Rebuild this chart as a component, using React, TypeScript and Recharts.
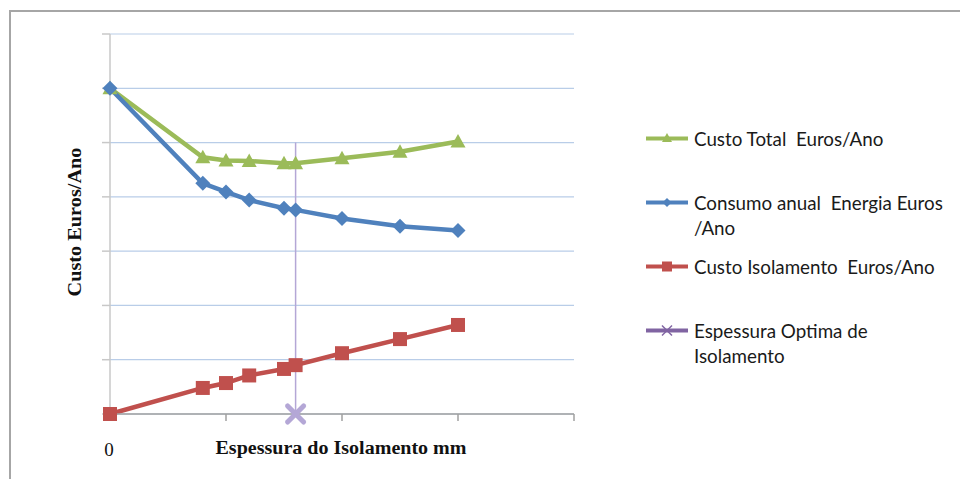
import { LineChart, Line, XAxis, YAxis, CartesianGrid, Legend, Label } from "recharts";

// espessura do isolamento (mm) and the three cost curves
const espessura = [0, 40, 50, 60, 75, 80, 100, 125, 150];
const custoTotal = [6.0, 4.73, 4.67, 4.66, 4.62, 4.62, 4.71, 4.83, 5.02];
const consumoEnergia = [6.0, 4.25, 4.09, 3.94, 3.79, 3.76, 3.6, 3.46, 3.38];
const custoIsolamento = [0, 0.48, 0.57, 0.71, 0.83, 0.9, 1.12, 1.38, 1.64];

// optimum marker: vertical line at the optimum thickness
const optimaX = [80, 80];
const optimaY = [0, 5];

const xTicks = [0, 50, 100, 150, 200];
const yTicks = [0, 1, 2, 3, 4, 5, 6, 7];

const legendOrder = ["total", "energia", "isolamento", "optima"];
const names: Record<string, string> = {
  total: "Custo Total  Euros/Ano",
  energia: "Consumo anual  Energia Euros\n/Ano",
  isolamento: "Custo Isolamento  Euros/Ano",
  optima: "Espessura Optima de\nIsolamento",
};

const data = espessura.map((x, i) => ({
  x,
  total: custoTotal[i],
  energia: consumoEnergia[i],
  isolamento: custoIsolamento[i],
}));

const optimaData = optimaX.map((x, i) => ({ x, optima: optimaY[i] }));

const GREEN = "#9bbb59";
const BLUE = "#4f81bd";
const RED = "#c0504d";
const PURPLE = "#8064a2";
const PURPLE_LIGHT = "#b4a7d6";
const AXIS = "#a0a0a0";

const triangleDot = (p: any) => {
  const { cx, cy, index } = p;
  if (cx == null || cy == null) return <g key={`t-${index}`} />;
  return (
    <polygon
      key={`t-${index}`}
      points={`${cx},${cy - 7.5} ${cx - 7.5},${cy + 6} ${cx + 7.5},${cy + 6}`}
      fill={GREEN}
    />
  );
};

const diamondDot = (p: any) => {
  const { cx, cy, index } = p;
  if (cx == null || cy == null) return <g key={`d-${index}`} />;
  return (
    <polygon
      key={`d-${index}`}
      points={`${cx},${cy - 7.5} ${cx + 7.5},${cy} ${cx},${cy + 7.5} ${cx - 7.5},${cy}`}
      fill={BLUE}
    />
  );
};

const squareDot = (p: any) => {
  const { cx, cy, index } = p;
  if (cx == null || cy == null) return <g key={`s-${index}`} />;
  return <rect key={`s-${index}`} x={cx - 7} y={cy - 7} width={14} height={14} fill={RED} />;
};

const crossDot = (p: any) => {
  const { cx, cy, index } = p;
  if (cx == null || cy == null || index !== 0) return <g key={`x-${index}`} />;
  return (
    <g key={`x-${index}`} stroke={PURPLE_LIGHT} strokeWidth={5} strokeLinecap="round">
      <line x1={cx - 8} y1={cy - 8} x2={cx + 8} y2={cy + 8} />
      <line x1={cx - 8} y1={cy + 8} x2={cx + 8} y2={cy - 8} />
    </g>
  );
};

const legendMarker = (key: string) => {
  const color =
    key === "total" ? GREEN : key === "energia" ? BLUE : key === "isolamento" ? RED : PURPLE;
  let shape = null;
  if (key === "total") shape = <polygon points="21,7 16,16 26,16" fill={GREEN} />;
  if (key === "energia") shape = <polygon points="21,8 25.5,12.5 21,17 16.5,12.5" fill={BLUE} />;
  if (key === "isolamento") shape = <rect x={16} y={7.5} width={10} height={10} fill={RED} />;
  if (key === "optima")
    shape = (
      <g stroke={PURPLE} strokeWidth={1.5}>
        <line x1={16} y1={7.5} x2={26} y2={17.5} />
        <line x1={16} y1={17.5} x2={26} y2={7.5} />
      </g>
    );
  return (
    <svg width={42} height={25} style={{ flex: "none" }}>
      <line x1={0} y1={12.5} x2={42} y2={12.5} stroke={color} strokeWidth={4} />
      {shape}
    </svg>
  );
};

const renderLegend = () => (
  <div style={{ fontFamily: "Lato, 'Open Sans', sans-serif", fontSize: 18.8, color: "#1a1a1a" }}>
    {legendOrder.map((key) => (
      <div key={key} style={{ display: "flex", height: 64, alignItems: "flex-start" }}>
        {legendMarker(key)}
        <div style={{ marginLeft: 6, lineHeight: "25px", whiteSpace: "pre" }}>{names[key]}</div>
      </div>
    ))}
  </div>
);

const xTick = (p: any) => {
  if (p.payload.value !== 0) return <g />;
  return (
    <text
      x={p.x - 1}
      y={456}
      textAnchor="middle"
      fontFamily="'Liberation Serif', serif"
      fontSize={19}
      fill="#111"
    >
      0
    </text>
  );
};

const noTick = () => <g />;

export default function App() {
  return (
    <div
      style={{
        position: "absolute",
        left: 0,
        top: 0,
        width: 960,
        height: 479,
        overflow: "hidden",
        background: "#fff",
      }}
    >
      <div
        style={{
          position: "absolute",
          left: 9,
          top: 10,
          width: 1000,
          height: 520,
          borderLeft: "2px solid #a6a6a6",
          borderTop: "2px solid #a6a6a6",
        }}
      />
      <div style={{ position: "absolute", left: 0, top: 0 }}>
        <LineChart
          width={960}
          height={479}
          data={data}
          margin={{ top: 34, right: 386, bottom: 55, left: 100 }}
        >
          <CartesianGrid horizontal vertical={false} stroke="#b9cde8" strokeWidth={1.2} />
          <XAxis
            dataKey="x"
            type="number"
            domain={[0, 200]}
            ticks={xTicks}
            interval={0}
            height={10}
            tickSize={7}
            tick={xTick}
            axisLine={{ stroke: AXIS, strokeWidth: 1.5 }}
            tickLine={{ stroke: AXIS, strokeWidth: 1.5 }}
          >
            <Label
              content={() => (
                <text
                  x={341}
                  y={454}
                  textAnchor="middle"
                  fontFamily="'Liberation Serif', serif"
                  fontWeight="bold"
                  fontSize={18}
                  textLength={251}
                  lengthAdjust="spacingAndGlyphs"
                  fill="#111"
                >
                  Espessura do Isolamento mm
                </text>
              )}
            />
          </XAxis>
          <YAxis
            type="number"
            domain={[0, 7]}
            ticks={yTicks}
            interval={0}
            width={10}
            tick={noTick}
            tickSize={8}
            axisLine={{ stroke: "#c8c8c8", strokeWidth: 1.5 }}
            tickLine={{ stroke: "#c8c8c8", strokeWidth: 1.5 }}
          >
            <Label
              content={() => (
                <text
                  x={81}
                  y={222}
                  transform="rotate(-90, 81, 222)"
                  textAnchor="middle"
                  fontFamily="'Liberation Serif', serif"
                  fontWeight="bold"
                  fontSize={18}
                  textLength={149}
                  lengthAdjust="spacingAndGlyphs"
                  fill="#111"
                >
                  Custo Euros/Ano
                </text>
              )}
            />
          </YAxis>
          <Legend
            layout="vertical"
            align="center"
            verticalAlign="middle"
            wrapperStyle={{ left: 646, top: 126, width: 314 }}
            content={renderLegend}
          />
          <Line
            dataKey="total"
            name={names.total}
            stroke={GREEN}
            strokeWidth={4.5}
            dot={triangleDot}
            activeDot={false}
            isAnimationActive={false}
          />
          <Line
            dataKey="energia"
            name={names.energia}
            stroke={BLUE}
            strokeWidth={4.5}
            dot={diamondDot}
            activeDot={false}
            isAnimationActive={false}
          />
          <Line
            dataKey="isolamento"
            name={names.isolamento}
            stroke={RED}
            strokeWidth={4.5}
            dot={squareDot}
            activeDot={false}
            isAnimationActive={false}
          />
          <Line
            data={optimaData}
            dataKey="optima"
            name={names.optima}
            stroke={PURPLE_LIGHT}
            strokeWidth={1.5}
            dot={crossDot}
            activeDot={false}
            isAnimationActive={false}
          />
        </LineChart>
      </div>
    </div>
  );
}
